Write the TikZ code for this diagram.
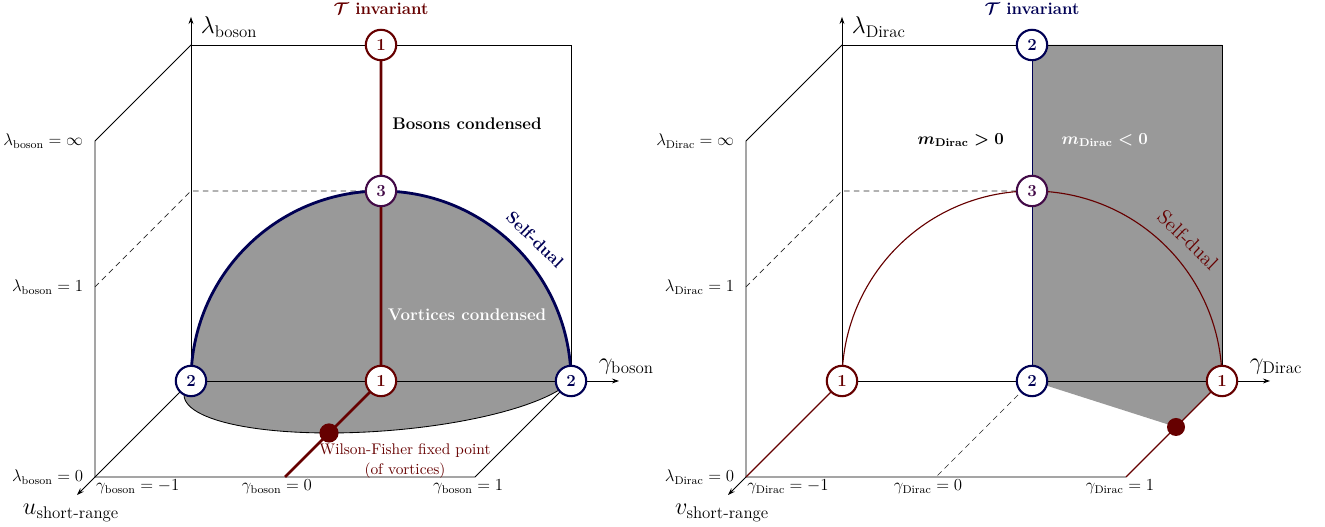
\documentclass[tikz,border=0pt,12pt]{standalone}
\usepackage{amsmath}
\usepackage{amssymb}
\usepackage{bm}
\usetikzlibrary{arrows.meta}
\definecolor{wine}{rgb}{0.40,0,0}
\definecolor{navy}{rgb}{0,0,0.33}
\definecolor{plum}{rgb}{0.26,0.04,0.28}

\begin{document}
\begin{tikzpicture}[
    >={Stealth[length=5pt, width=3.5pt]},
    edge/.style={line width=0.6pt},
    guide/.style={dash pattern=on 4pt off 3pt, line width=0.5pt, black!85},
    fp/.style={circle, draw, fill=white, line width=1.5pt, minimum size=0.76cm, inner sep=0pt, font=\bfseries},
    fpred/.style={fp, draw=wine, text=wine},
    fpblue/.style={fp, draw=navy, text=navy},
    fpmid/.style={fp, draw=plum, text=plum},
    wf/.style={circle, fill=wine, inner sep=0pt},
    axlbl/.style={font=\Large},
    lamlbl/.style={anchor=east},
    phase/.style={font=\bfseries},
    mass/.style={font=\boldmath},
    region/.style={fill=black!40},
]
\useasboundingbox (0,0) rectangle (33.125,13.175);
% ----- left: boson side
\begin{scope}[shift={(4.775,3.65)}]
\coordinate (bO) at (0,0); \coordinate (bTL) at (0,8.4); \coordinate (bTR) at (9.5,8.4);
\coordinate (bR) at (9.5,0); \coordinate (bC) at (4.75,0); \coordinate (bTC) at (4.75,8.4);
\coordinate (bM) at (4.75,4.75); \coordinate (bOne) at (0,4.75);
\coordinate (fInf) at (-2.4,6.0); \coordinate (fOne) at (-2.4,2.35); \coordinate (fZero) at (-2.4,-2.4);
\coordinate (fRight) at (7.1,-2.4); \coordinate (fMid) at (2.35,-2.4);
\coordinate (lamTip) at (0,9.1); \coordinate (gamTip) at (10.7,0); \coordinate (uTip) at (-2.85,-2.85);
\fill[region] (bO) arc[start angle=180, end angle=0, radius=4.75]
  -- plot[domain=0:180, samples=60] ({4.75+4.75*cos(\x)-1.3*sin(\x)}, {-1.3*sin(\x)}) -- cycle;
\draw[edge] plot[domain=0:180, samples=60] ({4.75+4.75*cos(\x)-1.3*sin(\x)}, {-1.3*sin(\x)});
\draw[edge, ->] (bO) -- (lamTip);
\draw[edge, ->] (bO) -- (gamTip);
\draw[edge] (bTL) -- (bTR) -- (bR);
\draw[edge] (bTL) -- (fInf) -- (fZero) -- (fRight) -- (bR);
\draw[edge] (bO) -- (fZero);
\draw[edge, ->] (fZero) -- (uTip);
\draw[guide] (fOne) -- (bOne) -- (bM);
\draw[navy, line width=2pt] (bO) arc[start angle=180, end angle=0, radius=4.75];
\draw[wine, line width=2pt] (bTC) -- (bC) -- (fMid);
\node[wf, minimum size=0.48cm] (bwf) at (3.45,-1.3) {};
\node[fpred] (b1top) at (bTC) {1};
\node[fpmid] (b3) at (bM) {3};
\node[fpred] (b1) at (bC) {1};
\node[fpblue] (b2l) at (bO) {2};
\node[fpblue] (b2r) at (bR) {2};
% labels
\node[font=\bfseries, text=wine] (btinv) at (4.75,9.3) {$\boldsymbol{\mathcal{T}}$ invariant};
\node[axlbl, anchor=west] (blam) at (0.1,8.85) {$\lambda_{\text{boson}}$};
\node[axlbl, anchor=west] (bgam) at (10.05,0.35) {$\gamma_{\text{boson}}$};
\node[axlbl] (bu) at (-3.0,-3.3) {$u_{\text{short-range}}$};
\node[lamlbl] (blinf) at (-2.55,6.0) {$\lambda_{\text{boson}}=\infty$};
\node[lamlbl] (blone) at (-2.55,2.35) {$\lambda_{\text{boson}}=1$};
\node[lamlbl] (blzero) at (-2.55,-2.4) {$\lambda_{\text{boson}}=0$};
\node (bgm) at (-1.33,-2.65) {$\gamma_{\text{boson}}=-1$};
\node (bgz) at (2.15,-2.65) {$\gamma_{\text{boson}}=0$};
\node (bgp) at (6.93,-2.65) {$\gamma_{\text{boson}}=1$};
\node[phase] (bcond) at (6.9,6.42) {Bosons condensed};
\node[phase, text=white] (vcond) at (6.9,1.65) {Vortices condensed};
\node[font=\small, text=wine, align=center] (bwflbl) at (5.35,-2.0) {Wilson-Fisher fixed point\\(of vortices)};
\node[phase, text=navy, rotate=-44] (bsd) at (8.6,3.53) {Self-dual};
\end{scope}
% ----- right: Dirac side
\begin{scope}[shift={(21.05,3.65)}]
\coordinate (dO) at (0,0); \coordinate (dTL) at (0,8.4); \coordinate (dTR) at (9.5,8.4);
\coordinate (dR) at (9.5,0); \coordinate (dC) at (4.75,0); \coordinate (dTC) at (4.75,8.4);
\coordinate (dM) at (4.75,4.75); \coordinate (dOne) at (0,4.75);
\coordinate (gInf) at (-2.4,6.0); \coordinate (gOne) at (-2.4,2.35); \coordinate (gZero) at (-2.4,-2.4);
\coordinate (gRight) at (7.1,-2.4); \coordinate (gMid) at (2.35,-2.4);
\coordinate (dlamTip) at (0,9.1); \coordinate (dgamTip) at (10.7,0); \coordinate (vTip) at (-2.85,-2.85);
\coordinate (dDot) at (8.35,-1.15);
\fill[region] (dTC) -- (dTR) -- (dR) -- (dDot) -- (dC) -- cycle;
\draw[edge, ->] (dO) -- (dlamTip);
\draw[edge, ->] (dO) -- (dgamTip);
\draw[edge] (dTL) -- (dTR) -- (dR);
\draw[edge] (dTL) -- (gInf) -- (gZero) -- (gRight);
\draw[edge, ->] (gZero) -- (vTip);
\draw[wine, line width=0.8pt] (dO) -- (gZero);
\draw[wine, line width=0.8pt] (dR) -- (gRight);
\draw[guide] (gOne) -- (dOne) -- (dM);
\draw[guide] (dC) -- (gMid);
\draw[navy, line width=0.7pt] (dTC) -- (dC);
\draw[wine, line width=0.8pt] (dO) arc[start angle=180, end angle=0, radius=4.75];
\node[wf, minimum size=0.45cm] (dwf) at (dDot) {};
\node[fpblue] (d2top) at (dTC) {2};
\node[fpmid] (d3) at (dM) {3};
\node[fpblue] (d2) at (dC) {2};
\node[fpred] (d1l) at (dO) {1};
\node[fpred] (d1r) at (dR) {1};
% labels
\node[font=\bfseries, text=navy] (dtinv) at (4.75,9.3) {$\boldsymbol{\mathcal{T}}$ invariant};
\node[axlbl, anchor=west] (dlam) at (0.1,8.85) {$\lambda_{\text{Dirac}}$};
\node[axlbl, anchor=west] (dgam) at (10.05,0.35) {$\gamma_{\text{Dirac}}$};
\node[axlbl] (dv) at (-3.0,-3.3) {$v_{\text{short-range}}$};
\node[lamlbl] (dlinf) at (-2.55,6.0) {$\lambda_{\text{Dirac}}=\infty$};
\node[lamlbl] (dlone) at (-2.55,2.35) {$\lambda_{\text{Dirac}}=1$};
\node[lamlbl] (dlzero) at (-2.55,-2.4) {$\lambda_{\text{Dirac}}=0$};
\node (dgm) at (-1.35,-2.65) {$\gamma_{\text{Dirac}}=-1$};
\node (dgz) at (2.15,-2.65) {$\gamma_{\text{Dirac}}=0$};
\node (dgp) at (6.95,-2.65) {$\gamma_{\text{Dirac}}=1$};
\node[mass] (mpos) at (2.97,6.02) {$m_{\textbf{Dirac}}>0$};
\node[mass, text=white] (mneg) at (6.57,6.02) {$m_{\textbf{Dirac}}<0$};
\node[font=\large, text=wine, rotate=-44] (dsd) at (8.65,3.53) {Self-dual};
\end{scope}
\end{tikzpicture}
\end{document}
